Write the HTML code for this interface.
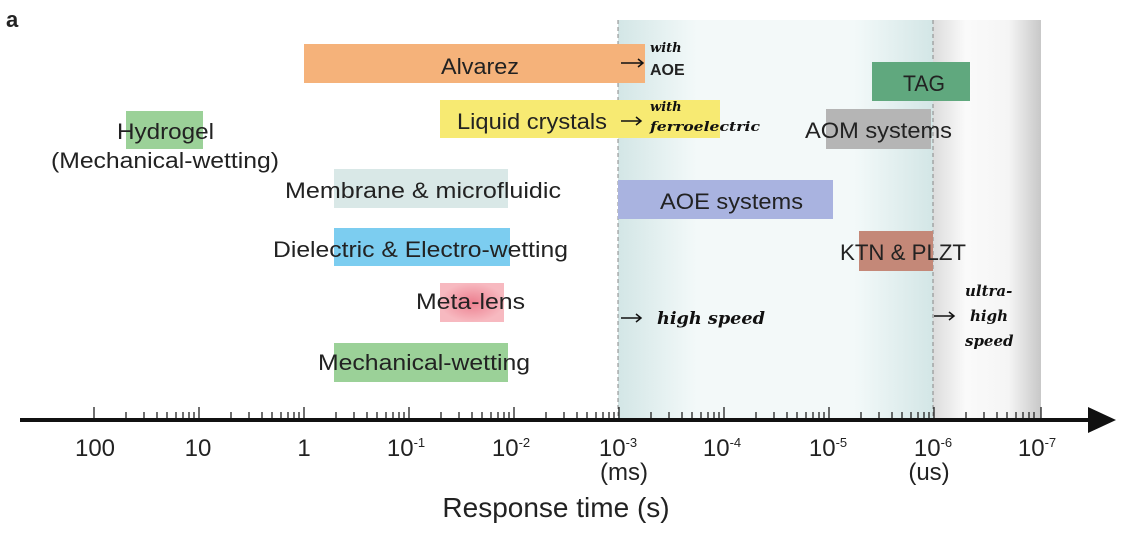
<!DOCTYPE html>
<html><head><meta charset="utf-8"><style>
body{margin:0;background:#fff}
svg{display:block}
text{font-family:"Liberation Sans",sans-serif;fill:#222}
.s{font-family:"DejaVu Serif",serif;font-style:italic;font-weight:bold;fill:#111}
</style></head><body>
<svg width="1140" height="546" viewBox="0 0 1140 546" xmlns="http://www.w3.org/2000/svg" xmlns:xlink="http://www.w3.org/1999/xlink">
<defs>
<linearGradient id="cy" x1="0" x2="1" y1="0" y2="0">
<stop offset="0" stop-color="#d3e6e6"/><stop offset="0.25" stop-color="#f3f9f9"/><stop offset="0.75" stop-color="#f3f9f9"/><stop offset="1" stop-color="#d3e6e6"/></linearGradient>
<linearGradient id="gr" x1="0" x2="1" y1="0" y2="0">
<stop offset="0" stop-color="#dcdcdc"/><stop offset="0.3" stop-color="#fafafa"/><stop offset="0.7" stop-color="#f5f5f5"/><stop offset="1" stop-color="#c8c8c8"/></linearGradient>
<radialGradient id="pk"><stop offset="0" stop-color="#ec7f8f"/><stop offset="1" stop-color="#f7b9c0"/></radialGradient>
<g id="dec" stroke="#222" stroke-width="1.3">
<path d="M0 407V420M32 412V420M50 412V420M63 412V420M73 412V420M82 412V420M89 412V420M95 412V420M100 412V420"/>
</g>
</defs>
<text x="6" y="27" style="font-weight:bold;font-size:22px" fill="#000">a</text>
<rect x="618" y="20" width="315" height="400" fill="url(#cy)"/>
<rect x="933" y="20" width="108" height="400" fill="url(#gr)"/>
<line x1="618" y1="20" x2="618" y2="420" stroke="#888" stroke-dasharray="4,3"/>
<line x1="933" y1="20" x2="933" y2="420" stroke="#888" stroke-dasharray="4,3"/>
<g>
<rect x="304" y="44" width="341" height="39" fill="#f5b27a"/>
<rect x="440" y="100" width="280" height="38" fill="#f7ea72"/>
<rect x="126" y="111" width="77" height="38" fill="#9bd198"/>
<rect x="334" y="169" width="174" height="39" fill="#d9e8e7"/>
<rect x="334" y="228" width="176" height="38" fill="#7ccdf0"/>
<rect x="440" y="283" width="64" height="39" fill="url(#pk)"/>
<rect x="334" y="343" width="174" height="39" fill="#9bd198"/>
<rect x="618" y="180" width="215" height="39" fill="#a9b3e0"/>
<rect x="872" y="62" width="98" height="39" fill="#60a87e"/>
<rect x="826" y="109" width="105" height="40" fill="#b5b5b5"/>
<rect x="859" y="231" width="74" height="40" fill="#c48878"/>
</g>
<g style="font-size:22px">
<text x="441" y="74" textLength="78" lengthAdjust="spacingAndGlyphs">Alvarez</text>
<text x="457" y="129" textLength="150" lengthAdjust="spacingAndGlyphs">Liquid crystals</text>
<text x="117" y="139" textLength="97" lengthAdjust="spacingAndGlyphs">Hydrogel</text>
<text x="51" y="168" textLength="228" lengthAdjust="spacingAndGlyphs">(Mechanical-wetting)</text>
<text x="285" y="198" textLength="276" lengthAdjust="spacingAndGlyphs">Membrane &amp; microfluidic</text>
<text x="273" y="257" textLength="295" lengthAdjust="spacingAndGlyphs">Dielectric &amp; Electro-wetting</text>
<text x="416" y="309" textLength="109" lengthAdjust="spacingAndGlyphs">Meta-lens</text>
<text x="318" y="370" textLength="212" lengthAdjust="spacingAndGlyphs">Mechanical-wetting</text>
<text x="660" y="209" textLength="143" lengthAdjust="spacingAndGlyphs">AOE  systems</text>
<text x="903" y="91" textLength="42" lengthAdjust="spacingAndGlyphs">TAG</text>
<text x="805" y="138" textLength="147" lengthAdjust="spacingAndGlyphs">AOM systems</text>
<text x="840" y="260" textLength="126" lengthAdjust="spacingAndGlyphs">KTN &amp; PLZT</text>
</g>
<g stroke="#111" stroke-width="1.5" fill="none">
<path d="M621 63 H643 M638 59 L643 63 L638 67"/>
<path d="M621 121 H641 M636 117 L641 121 L636 125"/>
<path d="M621 318 H641 M636 314 L641 318 L636 322"/>
<path d="M934 316 H954 M949 312 L954 316 L949 320"/>
</g>
<text class="s" x="650" y="52" style="font-size:13px">with</text>
<text x="650" y="75" style="font-size:16px;font-weight:bold" fill="#111">AOE</text>
<text class="s" x="650" y="111" style="font-size:13px">with</text>
<text class="s" x="650" y="131" style="font-size:13px" textLength="110" lengthAdjust="spacingAndGlyphs">ferroelectric</text>
<text class="s" x="657" y="324" style="font-size:17px" textLength="108" lengthAdjust="spacingAndGlyphs">high speed</text>
<text class="s" x="965" y="296" style="font-size:15px">ultra-</text>
<text class="s" x="970" y="321" style="font-size:15px">high</text>
<text class="s" x="965" y="346" style="font-size:15px">speed</text>
<use xlink:href="#dec" href="#dec" x="94"/>
<use xlink:href="#dec" href="#dec" x="199"/>
<use xlink:href="#dec" href="#dec" x="304"/>
<use xlink:href="#dec" href="#dec" x="409"/>
<use xlink:href="#dec" href="#dec" x="514"/>
<use xlink:href="#dec" href="#dec" x="619"/>
<use xlink:href="#dec" href="#dec" x="724"/>
<use xlink:href="#dec" href="#dec" x="829"/>
<use xlink:href="#dec" href="#dec" x="934"/>
<line x1="1041" y1="407" x2="1041" y2="420" stroke="#222" stroke-width="1.3"/>
<rect x="20" y="418" width="1080" height="4" fill="#111"/>
<path d="M1088 407 L1116 420 L1088 433 Z" fill="#111"/>
<g style="font-size:24px" text-anchor="middle" fill="#222">
<text x="95" y="456">100</text>
<text x="198" y="456">10</text>
<text x="304" y="456">1</text>
<text x="406" y="456">10<tspan dy="-9" style="font-size:13px">-1</tspan></text>
<text x="511" y="456">10<tspan dy="-9" style="font-size:13px">-2</tspan></text>
<text x="618" y="456">10<tspan dy="-9" style="font-size:13px">-3</tspan></text>
<text x="722" y="456">10<tspan dy="-9" style="font-size:13px">-4</tspan></text>
<text x="828" y="456">10<tspan dy="-9" style="font-size:13px">-5</tspan></text>
<text x="933" y="456">10<tspan dy="-9" style="font-size:13px">-6</tspan></text>
<text x="1037" y="456">10<tspan dy="-9" style="font-size:13px">-7</tspan></text>
<text x="624" y="480">(ms)</text>
<text x="929" y="480">(us)</text>
</g>
<text x="556" y="517" text-anchor="middle" style="font-size:28px" fill="#333">Response time (s)</text>
</svg>
</body></html>
